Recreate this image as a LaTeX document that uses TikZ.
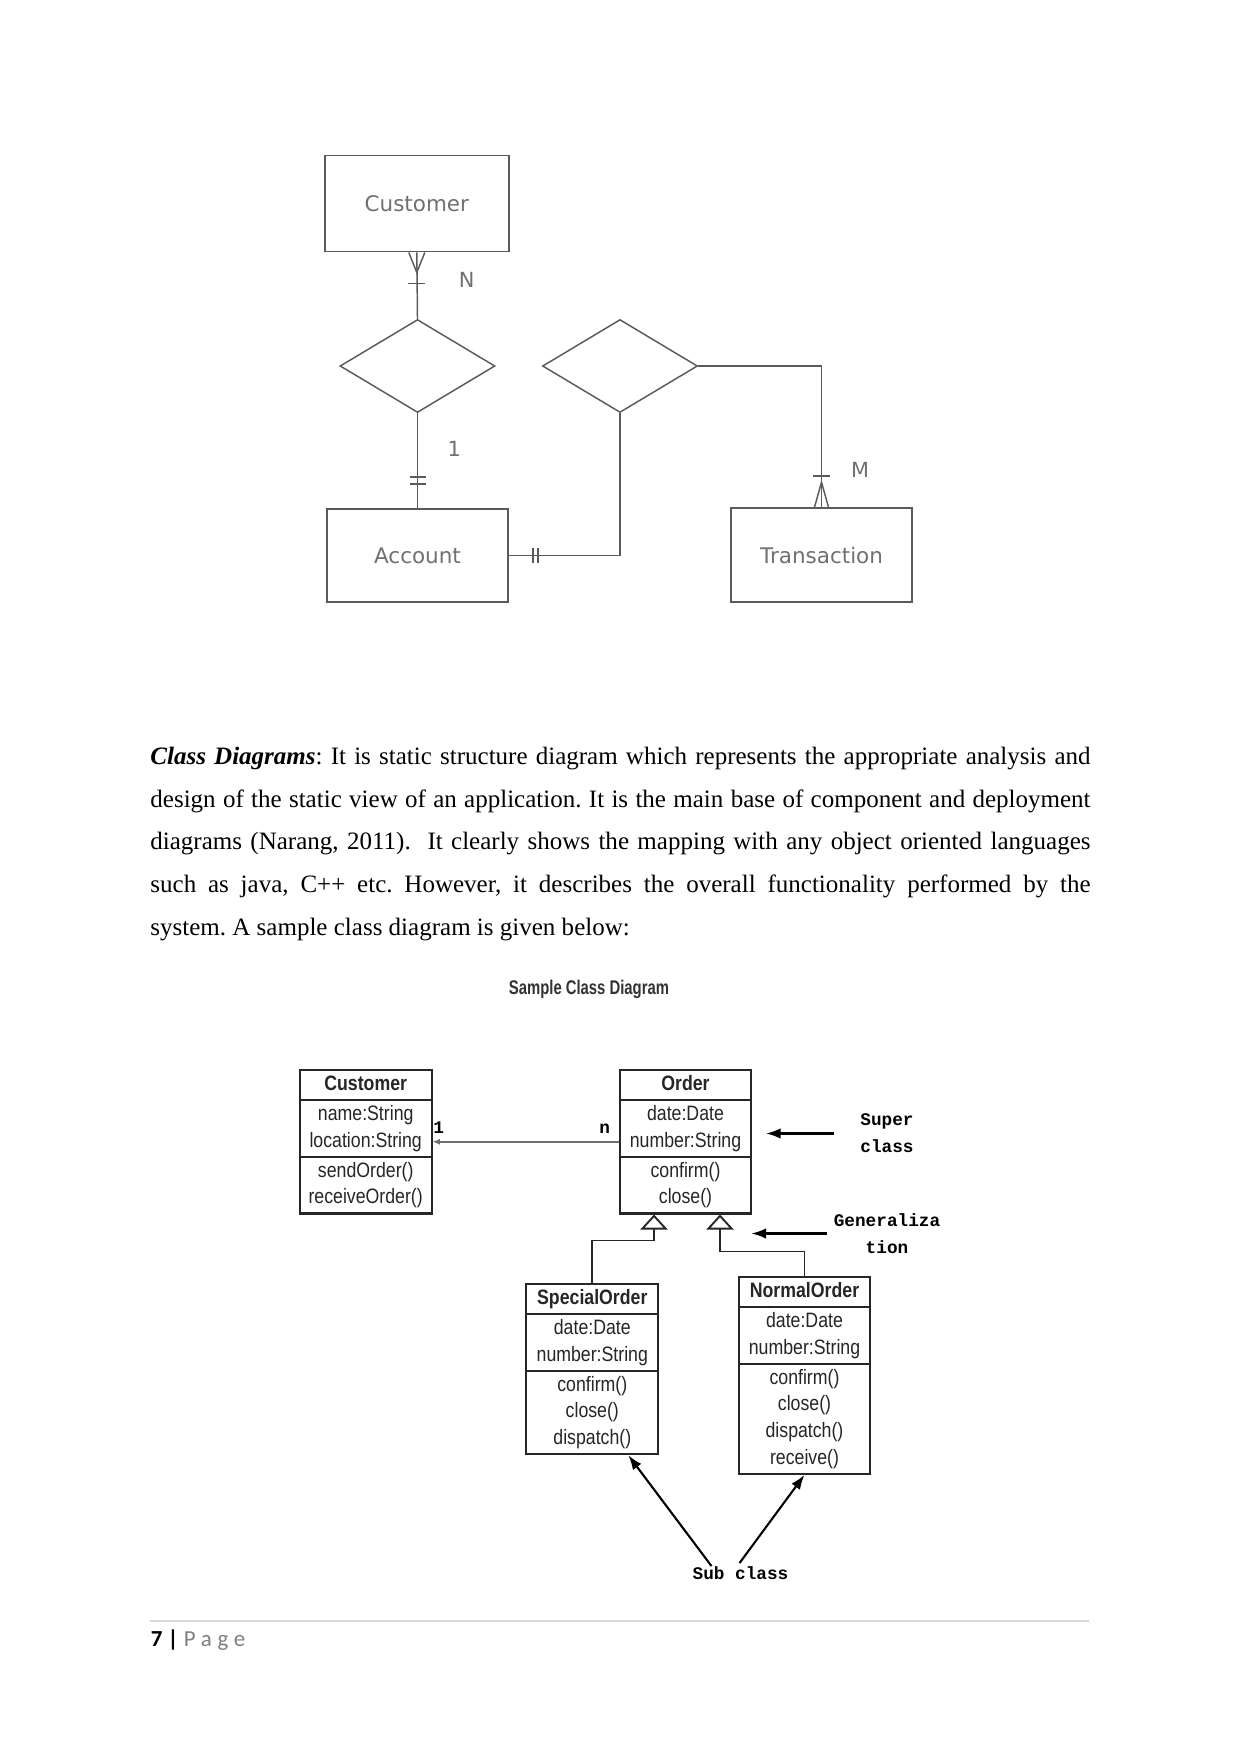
\documentclass[tikz,border=0pt]{standalone}
\usepackage{fontspec}
\setmainfont{Liberation Serif}
\newfontfamily\erfont{DejaVu Sans}
\newfontfamily\umlfont[FakeStretch=0.85]{Liberation Sans}
\newfontfamily\capfont[FakeStretch=0.75]{Liberation Sans}
\newfontfamily\notefont{Liberation Mono}
\newfontfamily\footfont{Carlito}
\usetikzlibrary{calc,arrows.meta,shapes.geometric,shapes.multipart,positioning}
\definecolor{ERText}{HTML}{707070}
\definecolor{ERLine}{HTML}{5A5A5A}
\definecolor{UMLDark}{HTML}{262626}
\definecolor{ALine}{HTML}{707070}
\definecolor{Rule}{HTML}{D9D9D9}
\definecolor{PGray}{HTML}{7F7F7F}
\newlength\px
\setlength\px{0.4797pt}
\frenchspacing
\hyphenpenalty=10000
\tikzset{
  entity/.style={draw=ERLine, line width=0.75pt, font=\erfont\fontsize{10.3}{12}\selectfont,
    text=ERText, inner sep=0pt},
  relation/.style={draw=ERLine, line width=0.7pt, diamond, minimum width=155\px,
    minimum height=93\px, inner sep=0pt},
  erline/.style={ERLine, line width=0.7pt},
  card/.style={font=\erfont\fontsize{10}{12}\selectfont, text=ERText, inner sep=0pt},
  umlclass/.style={draw=UMLDark, line width=1pt, rectangle split, rectangle split parts=3,
    text width=60pt, align=center, inner xsep=1.6pt, inner ysep=0.3pt,
    font=\umlfont\fontsize{10}{12.8}\selectfont, text=UMLDark, anchor=north},
  gen/.style={UMLDark, line width=0.9pt, -{Triangle[open, width=13pt, length=7.2pt]}},
  assoc/.style={ALine, line width=0.9pt, -{Latex[length=3.5pt, width=3pt]}},
  note/.style={font=\notefont\bfseries\fontsize{8.5}{13}\selectfont, text=black,
    align=center, inner sep=0pt},
  pointer/.style={black, line width=1pt, -{Latex[length=7pt, width=5pt]}},
}

\begin{document}
\begin{tikzpicture}[x=0.4797pt, y=-0.4797pt]
\fill[white] (0,0) rectangle (1241,1754);
\useasboundingbox (0,0) rectangle (1241,1754);

% ER part
\node[entity, minimum width=184\px, minimum height=96\px] (er-customer) at (416.8,203.7) {Customer};
\node[relation] (er-holds) at (417.5,366) {};
\node[entity, minimum width=181\px, minimum height=93\px] (er-account) at (417.5,555.5) {Account};
\node[relation] (er-makes) at (620,366) {};
\node[entity, minimum width=181\px, minimum height=94\px] (er-transaction) at (821.5,555) {Transaction};

\draw[erline] (er-customer.south) -- (er-holds.north);
\draw[erline] ($(er-customer.south)+(-8,0)$) -- ($(er-customer.south)+(0,20)$) -- ($(er-customer.south)+(8,0)$);
\draw[erline] ($(er-customer.south)+(-8.5,31)$) -- ++(17,0);

\draw[erline] (er-holds.south) -- (er-account.north);
\foreach \dy in {-31,-24}
  \draw[erline] ($(er-account.north)+(-8,\dy)$) -- ++(16,0);

\draw[erline] (er-account.east) -| (er-makes.south);
\foreach \dx in {24,29}
  \draw[erline] ($(er-account.east)+(\dx,-7.5)$) -- ++(0,15);

\draw[erline] (er-makes.east) -| (er-transaction.north);
\draw[erline] ($(er-transaction.north)+(-8.5,-31)$) -- ++(17,0);
\draw[erline] ($(er-transaction.north)+(-7,0)$) -- ($(er-transaction.north)+(0,-25)$) -- ($(er-transaction.north)+(7,0)$);

\node[card] (card-n) at (466.7,280) {N};
\node[card] (card-1) at (454.3,448.7) {1};
\node[card] (card-m) at (860,470) {M};

% text
\node[anchor=north west, inner sep=0pt, text width=451pt, align=justify,
  font=\fontsize{12}{20.5}\selectfont] (para) at (150,734)
  {\strut\textbf{\textit{Class Diagrams}}: It is static structure diagram which represents the appropriate analysis and\linebreak
   design of the static view of an application. It is the main base of component and deployment\linebreak
   diagrams (Narang, 2011).\ \ It clearly shows the mapping with any object oriented languages\linebreak
   such as java, C++ etc. However, it describes the overall functionality performed by the\linebreak
   system. A sample class diagram is given below:};

% class diagram
\node[font=\capfont\bfseries\fontsize{9.5}{11}\selectfont, text=black!80] (cd-title) at (589,989) {Sample Class Diagram};

\node[umlclass] (customer) at (365.7,1069)
  {\textbf{\strut Customer}\nodepart{two}\strut name:String\\\strut location:String\nodepart{three}\strut sendOrder()\\\strut receiveOrder()};
\node[umlclass] (order) at (685.5,1069)
  {\textbf{\strut Order}\nodepart{two}\strut date:Date\\\strut number:String\nodepart{three}\strut confirm()\\\strut close()};
\node[umlclass] (special-order) at (592.3,1283)
  {\textbf{\strut SpecialOrder}\nodepart{two}\strut date:Date\\\strut number:String\nodepart{three}\strut confirm()\\\strut close()\\\strut dispatch()};
\node[umlclass] (normal-order) at (804.5,1276)
  {\textbf{\strut NormalOrder}\nodepart{two}\strut date:Date\\\strut number:String\nodepart{three}\strut confirm()\\\strut close()\\\strut dispatch()\\\strut receive()};

\draw[assoc] (order.west) -- (customer.east)
  node[note, pos=0.075, above=3.5pt] (mult-n) {n}
  node[note, pos=0.968, above=3.5pt] (mult-1) {1};

\coordinate (gen-left) at ($(order.south)+(-31.5,0)$);
\coordinate (gen-right) at ($(order.south)+(34.5,0)$);
\draw[gen] (special-order.north) |- ($(gen-left)+(0,26)$) -- (gen-left);
\draw[gen] (normal-order.north) |- ($(gen-right)+(0,37)$) -- (gen-right);

\node[note] (super-label) at (887,1133.5) {Super\\class};
\draw[pointer] ([xshift=-26\px]super-label.west) -- ++(-68,0);
\node[note] (gen-label) at (887,1233.5) {Generaliza\\tion};
\draw[pointer] ([xshift=-6\px]gen-label.west) -- ++(-76,0);
\node[note] (sub-label) at (740.5,1573) {Sub class};
\draw[pointer] ([xshift=-29\px]sub-label.north) -- ($(special-order.south)+(36,0)$);
\draw[pointer] ([xshift=-1\px, yshift=3\px]sub-label.north) -- (normal-order.south);

% footer
\draw[Rule, line width=0.5pt] (150,1621) coordinate (rule-l) -- (1089,1621) coordinate (rule-r);
\node[anchor=base west, inner sep=0pt, font=\footfont\fontsize{11}{13}\selectfont] (page-no) at (150.5,1646.5)
  {\textbf{7 |} \textcolor{PGray}{\addfontfeatures{LetterSpace=25}Page}};
\end{tikzpicture}
\end{document}
